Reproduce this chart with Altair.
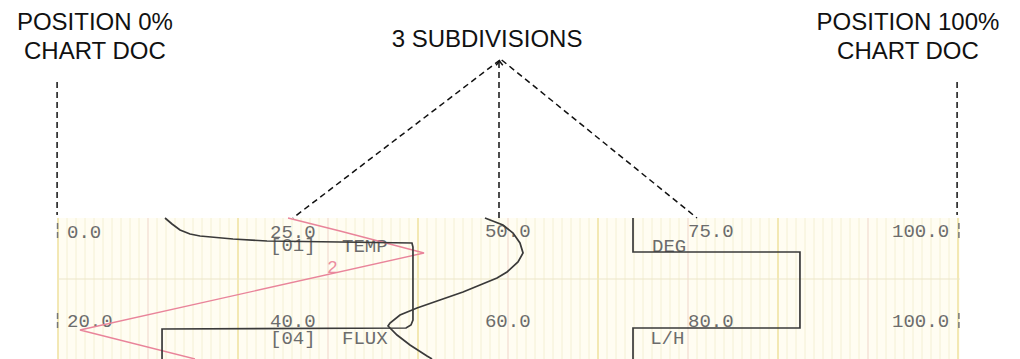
import altair as alt
import pandas as pd

# ---------------- data (x = chart position %, t = paper time units, downwards) -------------
# trace 1 (black, TEMP / FLUX step)
tr1_p = [11.89, 12.67, 13.56, 14.67, 15.78, 19.44, 23.22, 39.33, 39.44, 39.44, 39.22, 38.67, 11.56, 11.56]
tr1_t = [0, 6, 12, 16, 18, 21, 23, 25, 29, 102, 107, 110, 111, 141]
# trace 2 (black S curve)
tr2_p = [47.44, 49.44, 50.56, 51.33, 51.67, 51.11, 49.89, 48.78, 46.89, 45.0, 42.44, 39.89,
         38.0, 36.89, 36.67, 37.67, 39.11, 41.0, 41.56]
tr2_t = [0, 7, 15, 25, 35, 44, 54, 60, 67, 74, 82, 90, 97, 105, 108, 117, 127, 138, 141]
# trace 3 (black DEG / L/H step)
tr3_p = [63.89, 63.89, 82.44, 82.44, 63.89, 63.89]
tr3_t = [0, 34, 34, 110, 110, 141]
# trace 4 (red zig-zag)
tr4_p = [25.56, 31.33, 40.67, 2.44, 15.22]
tr4_t = [0, 13, 35, 112, 141]

# printed scale labels on the paper
paper_text = ["0.0", "25.0", "[01]", "TEMP", "50.0", "DEG", "75.0", "100.0",
              "20.0", "40.0", "[04]", "FLUX", "60.0", "L/H", "80.0", "100.0"]
paper_text_p = [1.0, 23.56, 23.56, 31.56, 47.44, 66.0, 70.0, 92.67,
                1.0, 23.56, 23.56, 31.56, 47.44, 65.8, 70.0, 92.67]
paper_text_t = [19.5, 19.5, 32.5, 34, 19, 34, 19, 19,
                109, 109, 125.5, 126, 109, 126, 109, 109]

# annotations above the paper
note_text = ["POSITION 0%", "CHART DOC", "3 SUBDIVISIONS", "POSITION 100%", "CHART DOC"]
note_p = [4.1, 4.1, 47.67, 94.44, 94.44]
note_t = [-188, -159, -171, -188, -159]

# dashed leader lines
lead_p1 = [-0.1, 99.9, 49.0, 49.1, 49.3]
lead_t1 = [-136, -136, -156, -158, -158]
lead_p2 = [-0.1, 99.9, 49.0, 26.1, 71.0]
lead_t2 = [-3, -3, 0, 0, 0]

# ---------------- scales ----------------
XS = alt.Scale(domain=[-50 / 9, 954 / 9], nice=False, zero=False)
YS = alt.Scale(domain=[-210, 141], nice=False, zero=False, reverse=True)


def X(f="p"):
    return alt.X(f + ":Q", scale=XS, axis=None)


def Y(f="t"):
    return alt.Y(f + ":Q", scale=YS, axis=None)


# paper
paper = alt.Chart(pd.DataFrame({"p": [0], "p2": [100.2], "t": [0], "t2": [141]})).mark_rect(
    color="#fffdf2", clip=True
).encode(x=X(), x2="p2:Q", y=Y(), y2="t2:Q")

grid_p = list(range(0, 101))
grid_kind = ["major" if v % 20 == 0 else ("mid" if v % 10 == 0 else "minor") for v in grid_p]
grid_df = pd.DataFrame({"p": grid_p, "kind": grid_kind, "t": 0, "t2": 141})

minor = alt.Chart(grid_df[grid_df.kind == "minor"]).mark_rule(
    color="#f4f0d4", strokeWidth=1.0, clip=True
).encode(x=X(), y=Y(), y2="t2:Q")
mid = alt.Chart(grid_df[grid_df.kind == "mid"]).mark_rule(
    color="#f2dcd0", strokeWidth=1.2, clip=True
).encode(x=X(), y=Y(), y2="t2:Q")
major = alt.Chart(grid_df[grid_df.kind == "major"]).mark_rule(
    color="#efe09e", strokeWidth=1.5, clip=True
).encode(x=X(), y=Y(), y2="t2:Q")

hline = alt.Chart(pd.DataFrame({"p": [0], "p2": [100.2], "t": [61]})).mark_rule(
    color="#ebe6c8", strokeWidth=1.2
).encode(x=X(), x2="p2:Q", y=Y())

# broken bars at 0% and 100%
bars = alt.Chart(pd.DataFrame({"p": [-0.05, 100.1, -0.05, 100.1],
                               "t": [5, 5, 95, 95], "t2": [22, 22, 112, 112]})).mark_rule(
    color="#777777", strokeWidth=1.5, strokeDash=[6, 3]
).encode(x=X(), y=Y(), y2="t2:Q")

ptext = alt.Chart(pd.DataFrame({"p": paper_text_p, "t": paper_text_t, "s": paper_text})).mark_text(
    font="Liberation Mono", fontSize=19, color="#6c6c6c", align="left", baseline="alphabetic"
).encode(x=X(), y=Y(), text="s:N")

two = alt.Chart(pd.DataFrame({"p": [29.9], "t": [55], "s": ["2"]})).mark_text(
    font="Liberation Mono", fontSize=18, color="#ec8ea0", align="left", baseline="alphabetic"
).encode(x=X(), y=Y(), text="s:N")

rows = []
for name, ps, ts in [("a", tr1_p, tr1_t), ("b", tr2_p, tr2_t), ("c", tr3_p, tr3_t)]:
    for i, (pp, tt) in enumerate(zip(ps, ts)):
        rows.append({"trace": name, "i": i, "p": pp, "t": tt})
black_df = pd.DataFrame(rows)
red_df = pd.DataFrame({"trace": "r", "i": list(range(len(tr4_p))), "p": tr4_p, "t": tr4_t})

black = alt.Chart(black_df).mark_line(color="#3a3a3a", strokeWidth=1.7, clip=True).encode(
    x=X(), y=Y(), detail="trace:N", order="i:Q"
)
red = alt.Chart(red_df).mark_line(color="#e9849a", strokeWidth=1.4, clip=True).encode(
    x=X(), y=Y(), order="i:Q"
)

leads = alt.Chart(pd.DataFrame({"p": lead_p1, "t": lead_t1, "p2": lead_p2, "t2": lead_t2})).mark_rule(
    color="#111111", strokeWidth=1.5, strokeDash=[6, 4]
).encode(x=X(), y=Y(), x2="p2:Q", y2="t2:Q")

arrow = alt.Chart(pd.DataFrame({"p": [49.05], "t": [-157]})).mark_point(
    shape="M-0.8,1L0,0L0.8,1", filled=False, color="#111111", strokeWidth=1.5, size=70, opacity=1
).encode(x=X(), y=Y())

notes = alt.Chart(pd.DataFrame({"p": note_p, "t": note_t, "s": note_text})).mark_text(
    font="Liberation Sans", fontSize=24, color="#111111", align="center", baseline="alphabetic"
).encode(x=X(), y=Y(), text="s:N")

chart = alt.layer(
    paper, minor, mid, major, hline, bars, ptext, two, red, black, leads, arrow, notes
).properties(width=1004, height=351, padding=0, background="white").configure_view(stroke=None)

chart.save("out.html", embed_options={"renderer": "svg", "actions": False})
